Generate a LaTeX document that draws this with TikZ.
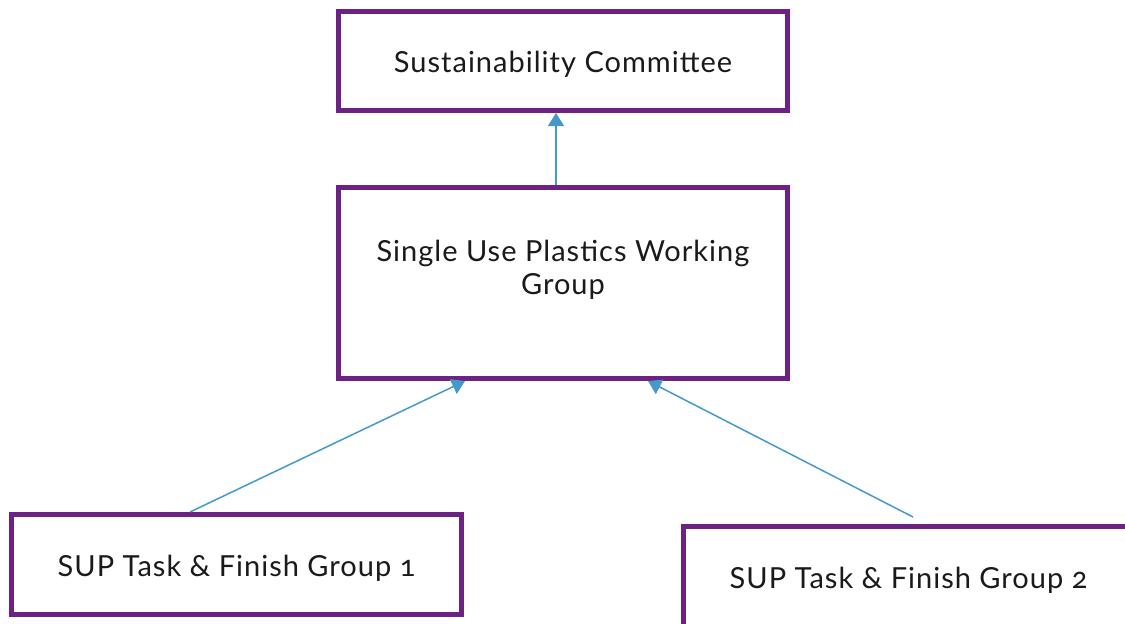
\documentclass[tikz,border=0pt]{standalone}
\usepackage{fontspec}
\setmainfont{Lato}[Numbers=OldStyle,LetterSpace=3.5]
\usetikzlibrary{arrows.meta,calc}
\definecolor{boxpurple}{HTML}{6C2183}
\definecolor{linkblue}{HTML}{4499CA}
\definecolor{txt}{HTML}{1A1A1A}
\tikzset{
  orgbox/.style={draw=boxpurple, line width=5pt, fill=white, rectangle, inner sep=0pt, font=\fontsize{29}{33.3}\selectfont, text=txt, align=center, text height=26pt, text depth=2.6pt},
  lbl/.style={inner sep=0pt, font=\fontsize{29}{33.3}\selectfont, text=txt, align=center},
  link/.style={draw=linkblue, line width=1.5pt, -{Triangle[width=16pt,length=13pt]}}
}
\begin{document}
\begin{tikzpicture}[x=1pt,y=-1pt]
\useasboundingbox (0,0) rectangle (1125,624);
\clip (0,0) rectangle (1125,624);
\node[orgbox, minimum width=449pt, minimum height=99pt] (box1) at (563,61) {Sustainability Committee};
\node[orgbox, minimum width=449pt, minimum height=191pt] (box2) at (563,283) {};
\node[lbl] (box2text) at (563,270) {Single Use Plastics Working\\Group};
\node[orgbox, minimum width=450pt, minimum height=100pt] (box3) at (236.5,564.5) {SUP Task \& Finish Group 1};
\node[orgbox, minimum width=450pt, minimum height=100pt] (box4) at (908.5,576.5) {SUP Task \& Finish Group 2};
\draw[link] ($(box2.north)+(-7,0)$) -- ($(box1.south)+(-7,0)$);
\draw[link] ($(box3.north)+(-46.5,0)$) -- ($(box2.south)+(-98,0)$);
\draw[link] ($(box4.north)+(4.5,-7)$) -- ($(box2.south)+(85,0)$);
\end{tikzpicture}
\end{document}
